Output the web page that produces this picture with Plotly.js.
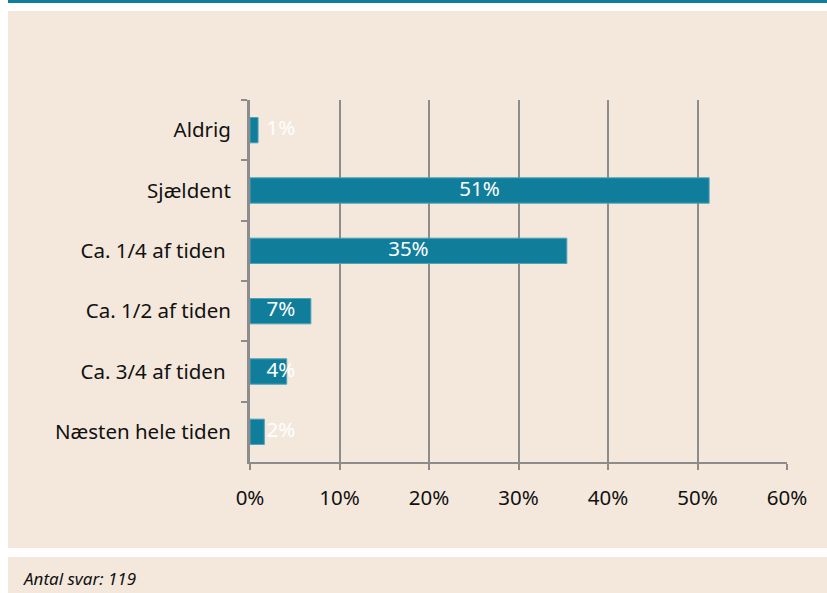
<!DOCTYPE html>
<html>
<head>
<meta charset="utf-8">
<script src="https://cdn.plot.ly/plotly-3.0.1.min.js"></script>
<style>
html,body{margin:0;padding:0;background:#ffffff;}
#chart{width:827px;height:593px;}
</style>
</head>
<body>
<div id="chart"></div>
<script>
// Data
var categories = ["Aldrig", "Sjældent", "Ca. 1/4 af tiden ", "Ca. 1/2 af tiden", "Ca. 3/4 af tiden ", "Næsten hele tiden"];
var shares = [0.9, 51.3, 35.4, 6.8, 4.1, 1.6];
var shareLabels = ["1%", "51%", "35%", "7%", "4%", "2%"];
var xTickValues = [0, 10, 20, 30, 40, 50, 60];
var xTickLabels = ["0%", "10%", "20%", "30%", "40%", "50%", "60%"];
var footnote = "Antal svar: 119";

var W = 827, H = 593;
var mL = 250, mR = 40, mT = 100, mB = 131;
var pw = W - mL - mR, ph = H - mT - mB;
function px(x){ return (x - mL) / pw; }
function py(y){ return (H - mB - y) / ph; }

var FONT = "Noto Sans, Open Sans, sans-serif";
var BAR = "#107d9b";
var FS = 20.5;

var labelX = shares.map(function(v){ return Math.max(v / 2, 3.45); });

var traces = [
  {
    type: "bar",
    orientation: "h",
    y: categories,
    x: shares,
    width: 0.42,
    marker: {color: BAR, line: {color: "#4da3b8", width: 1}},
    hoverinfo: "skip",
    showlegend: false
  },
  {
    type: "scatter",
    mode: "text",
    y: categories,
    x: labelX,
    text: shareLabels,
    textposition: "middle center",
    textfont: {family: FONT, size: FS, color: "#ffffff"},
    hoverinfo: "skip",
    showlegend: false,
    cliponaxis: false
  }
];

var layout = {
  width: W,
  height: H,
  margin: {l: mL, r: mR, t: mT, b: mB, pad: 0},
  paper_bgcolor: "#ffffff",
  plot_bgcolor: "rgba(0,0,0,0)",
  font: {family: FONT, size: FS, color: "#111111"},
  showlegend: false,
  bargap: 0.58,
  xaxis: {
    range: [0, 60],
    tickvals: xTickValues,
    ticktext: xTickLabels,
    showgrid: true,
    gridcolor: "#8c8c8c",
    gridwidth: 2,
    zeroline: false,
    showline: true,
    linecolor: "#8c8c8c",
    linewidth: 2,
    ticks: "outside",
    ticklen: 6,
    tickwidth: 2,
    tickcolor: "#8c8c8c",
    ticklabelstandoff: 10,
    tickfont: {family: FONT, size: FS, color: "#111111"},
    fixedrange: true
  },
  yaxis: {
    type: "category",
    autorange: "reversed",
    showgrid: false,
    zeroline: false,
    showline: true,
    linecolor: "#8c8c8c",
    linewidth: 3,
    ticks: "outside",
    tickson: "boundaries",
    ticklen: 6,
    tickwidth: 2,
    tickcolor: "#8c8c8c",
    ticklabelstandoff: 12,
    tickfont: {family: FONT, size: FS, color: "#111111"},
    fixedrange: true
  },
  shapes: [
    {type: "rect", layer: "below", xref: "paper", yref: "paper",
     x0: px(8), x1: px(W + 5), y0: py(0), y1: py(3),
     fillcolor: "#107d9b", line: {width: 0}},
    {type: "rect", layer: "below", xref: "paper", yref: "paper",
     x0: px(8), x1: px(W + 5), y0: py(11), y1: py(548),
     fillcolor: "#f4e8dc", line: {width: 0}},
    {type: "rect", layer: "below", xref: "paper", yref: "paper",
     x0: px(8), x1: px(W + 5), y0: py(557), y1: py(H + 5),
     fillcolor: "#f4e8dc", line: {width: 0}}
  ],
  annotations: [
    {xref: "paper", yref: "paper", x: px(21), y: py(578),
     xanchor: "left", yanchor: "middle", showarrow: false,
     text: "<i>" + footnote + "</i>",
     font: {family: FONT, size: 17, color: "#111111"}}
  ]
};

Plotly.newPlot("chart", traces, layout, {displayModeBar: false, staticPlot: true});
</script>
</body>
</html>
